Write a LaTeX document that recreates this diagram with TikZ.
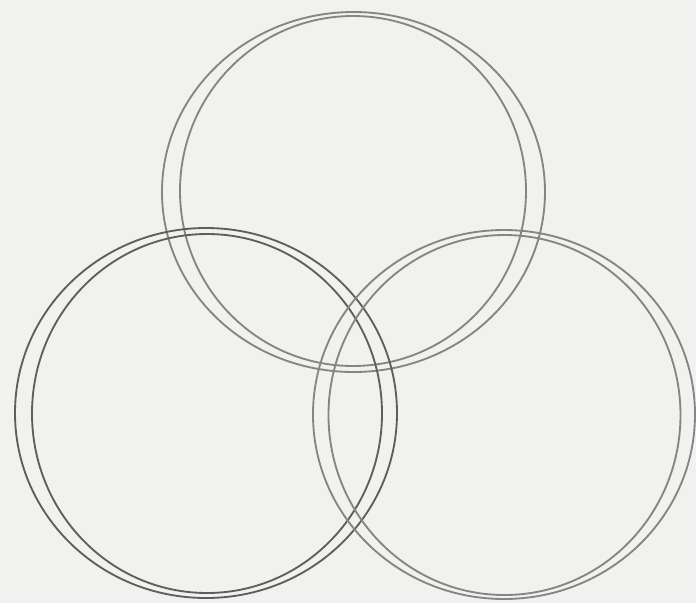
\documentclass[tikz,border=0pt]{standalone}
\usepackage{xcolor}
\definecolor{paper}{HTML}{F1F1EF}
\definecolor{silver}{HTML}{858583}
\definecolor{steel}{HTML}{5E5E5C}

\begin{document}
\begin{tikzpicture}[x=0.0265cm,y=-0.0265cm]
\tikzset{ring/.style={draw=silver,line width=1.4pt},
  darkring/.style={ring,draw=steel}}
% paper
\fill[paper] (0,0) rectangle (696,603);
\useasboundingbox (0,0) rectangle (696,603);
% top pair
\draw[ring] (353.5,192) ellipse [x radius=191.5,y radius=180];
\draw[ring] (353,191) ellipse [x radius=173,y radius=175];
% left pair
\draw[darkring] (206,413) ellipse [x radius=191,y radius=185];
\draw[darkring] (207,413.5) ellipse [x radius=175,y radius=179.5];
% right pair
\draw[ring] (504,414.5) ellipse [x radius=191,y radius=184.5];
\draw[ring] (504.5,415) ellipse [x radius=176,y radius=180];
\end{tikzpicture}
\end{document}
